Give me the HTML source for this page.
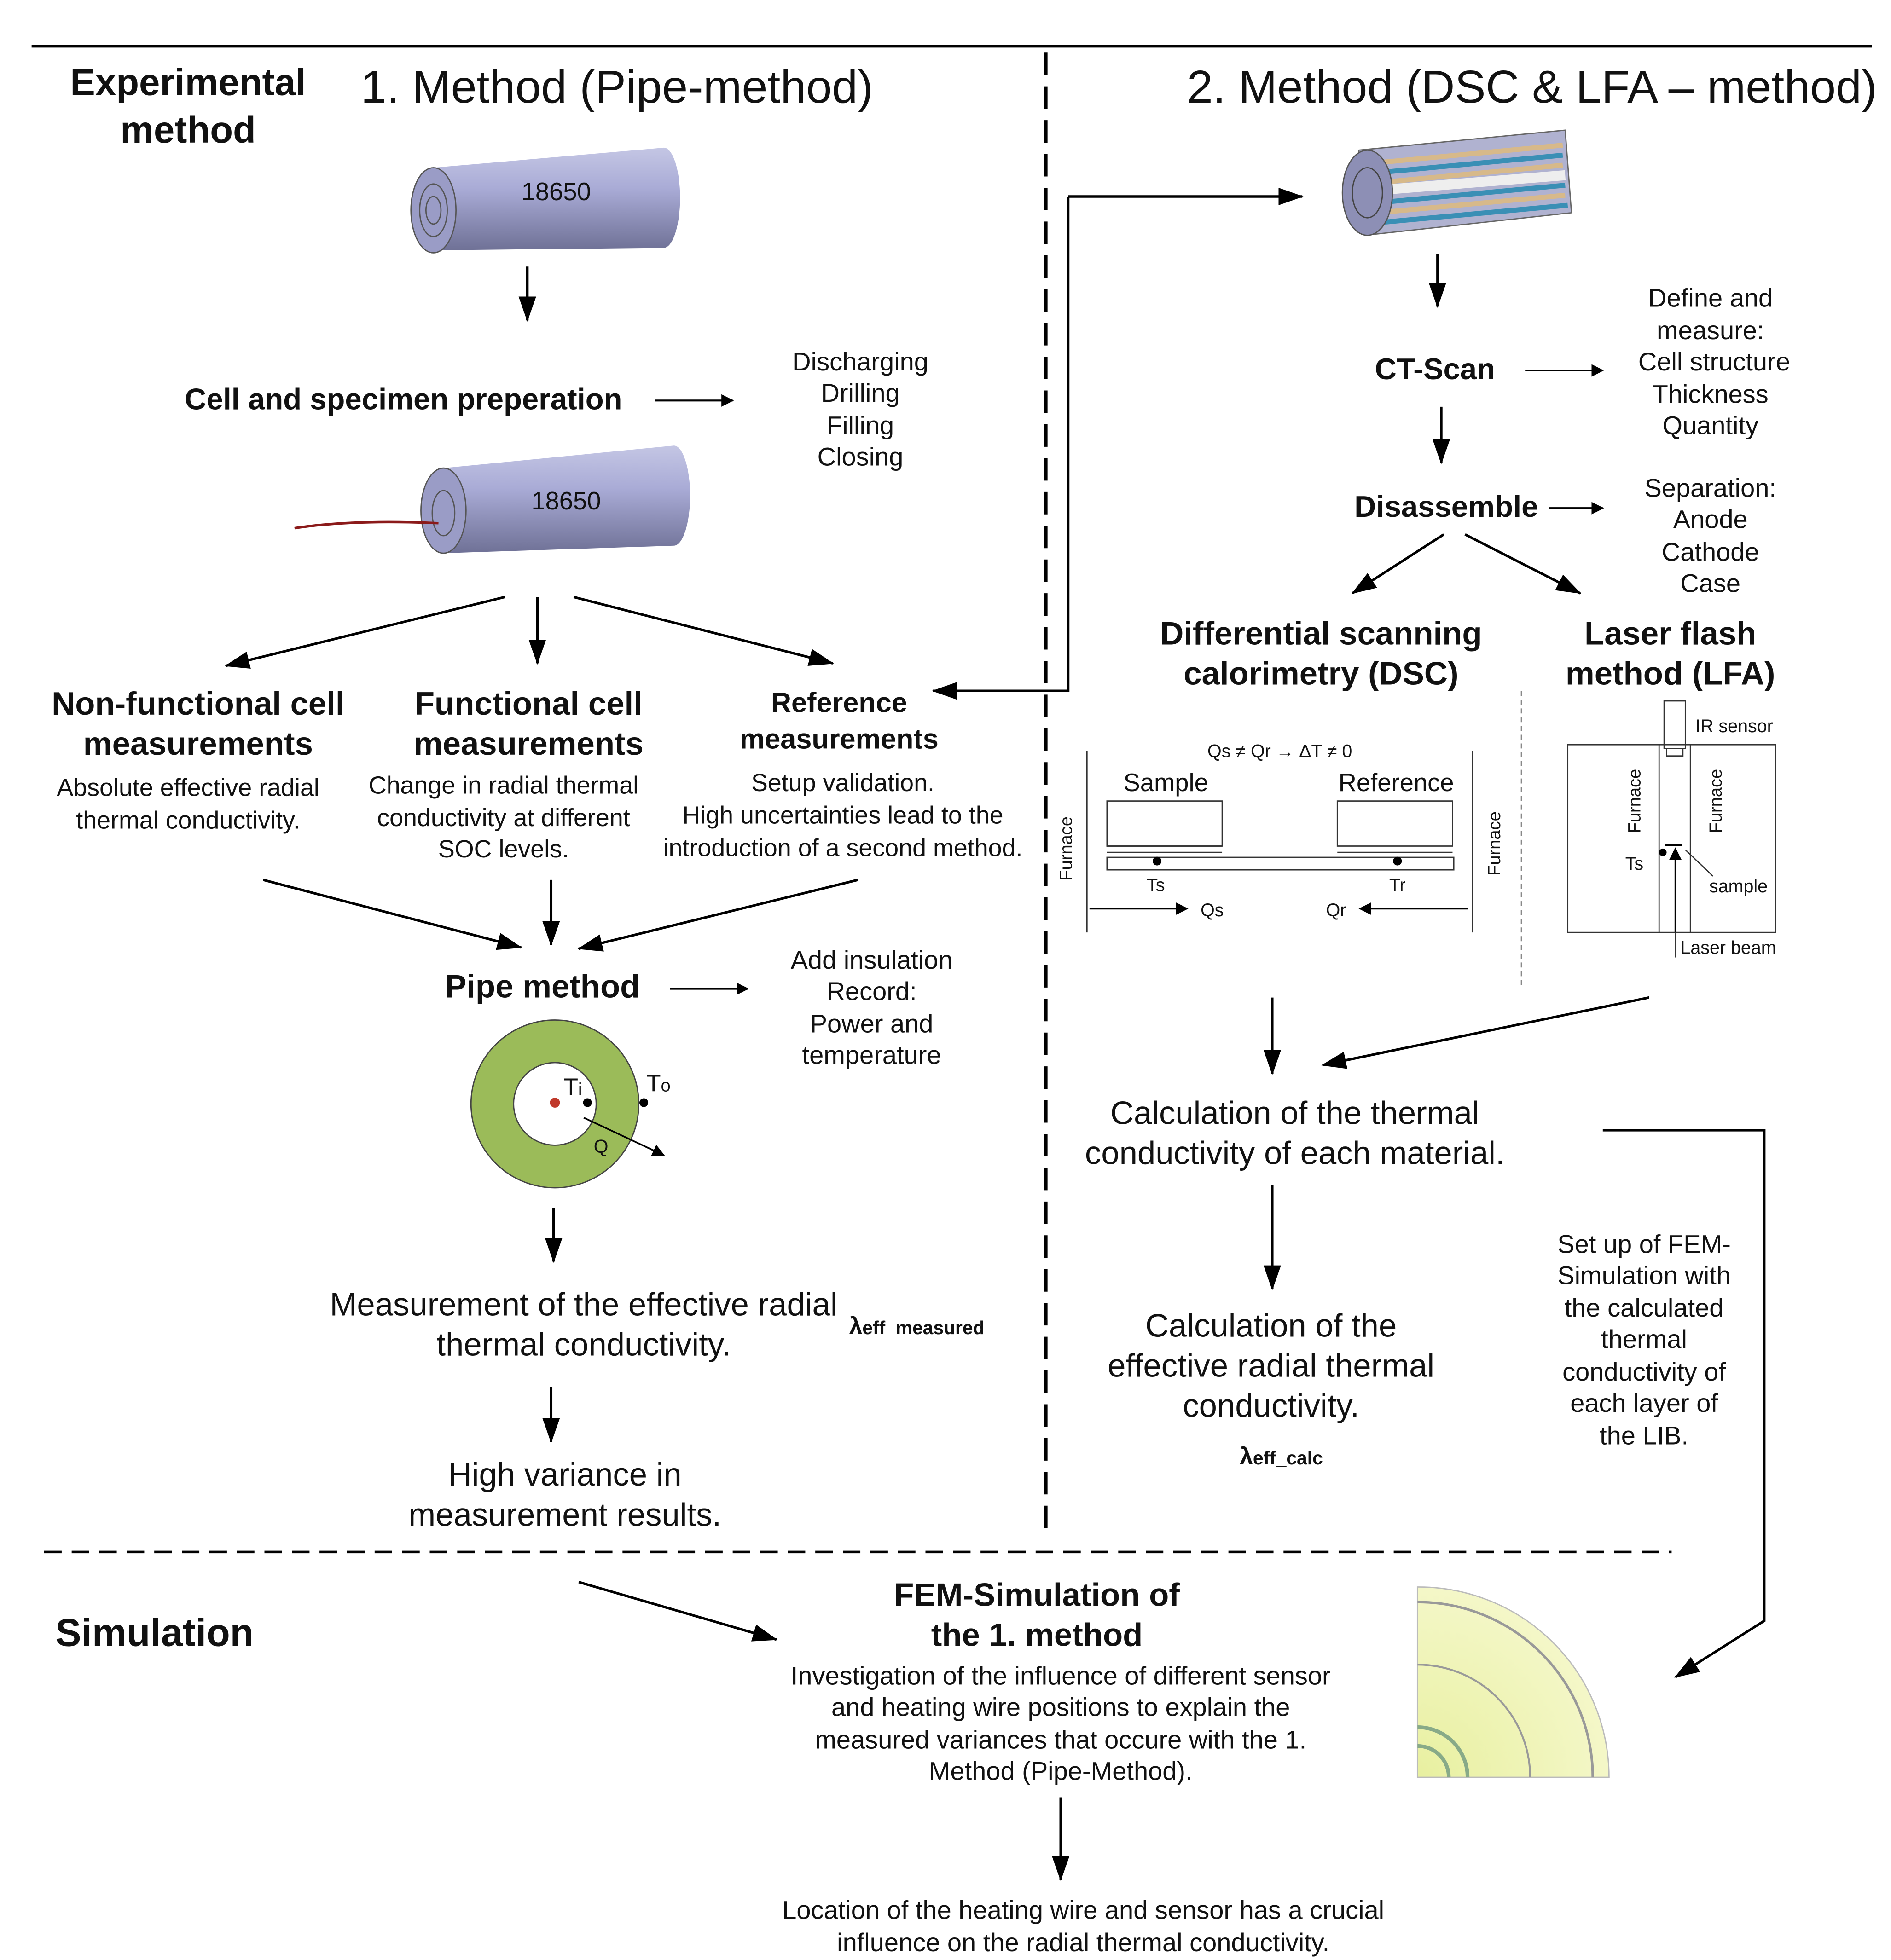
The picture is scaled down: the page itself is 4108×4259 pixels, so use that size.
<!DOCTYPE html>
<html><head><meta charset="utf-8"><style>
html,body{margin:0;padding:0;background:#fff;}
svg{display:block}
text{font-family:"Liberation Sans",Arial,sans-serif;fill:#111}
.b{font-weight:bold}
</style></head><body>
<svg width="4108" height="4259" viewBox="0 0 1510 1566" xmlns="http://www.w3.org/2000/svg">
<defs>
<marker id="a" markerWidth="10" markerHeight="10" refX="9" refY="5" orient="auto" markerUnits="userSpaceOnUse"><path d="M0,0 L10,5 L0,10 z" fill="#000"/></marker>
<marker id="a2" markerWidth="20" markerHeight="14" refX="19" refY="7" orient="auto" markerUnits="userSpaceOnUse"><path d="M0,0 L20,7 L0,14 z" fill="#000"/></marker>
<linearGradient id="cyl" x1="0" y1="0" x2="0" y2="1"><stop offset="0" stop-color="#c4c6e4"/><stop offset="0.4" stop-color="#a9abd6"/><stop offset="1" stop-color="#6f7196"/></linearGradient>
<radialGradient id="fem" cx="0" cy="1" r="1"><stop offset="0" stop-color="#e8f0a0"/><stop offset="1" stop-color="#f4f7c8"/></radialGradient>
</defs>
<g stroke="#000" fill="none">
<line x1="25" y1="37" x2="1495" y2="37" stroke-width="2"/>
<line x1="835" y1="42" x2="835" y2="1230" stroke-width="3" stroke-dasharray="18,9"/>
<line x1="35" y1="1240" x2="1335" y2="1240" stroke-width="2" stroke-dasharray="14,8"/>
</g>
<text x="150" y="76" font-size="30" text-anchor="middle" class="b">Experimental</text>
<text x="150" y="114" font-size="30" text-anchor="middle" class="b">method</text>
<text x="288" y="82" font-size="37">1. Method (Pipe-method)</text>
<text x="948" y="82" font-size="37">2. Method (DSC &amp; LFA – method)</text>
<g>
<path d="M346,134 L530,118 A13,40 0 0 1 530,198 L346,200 Z" fill="url(#cyl)"/>
<ellipse cx="346" cy="168" rx="18" ry="34" fill="#9a9cc6" stroke="#555"/>
<ellipse cx="346" cy="168" rx="11" ry="21" fill="none" stroke="#555"/>
<ellipse cx="346" cy="168" rx="6" ry="11" fill="none" stroke="#555"/>
<text x="444" y="160" font-size="20" text-anchor="middle">18650</text>
</g>
<line x1="421" y1="213" x2="421" y2="256" stroke="#000" stroke-width="2" marker-end="url(#a2)"/>
<text x="322" y="327" font-size="24" text-anchor="middle" class="b">Cell and specimen preperation</text>
<line x1="523" y1="320" x2="585" y2="320" stroke="#000" stroke-width="1.5" marker-end="url(#a)"/>
<g font-size="20.6" text-anchor="middle"><text x="687" y="296">Discharging</text><text x="687" y="321">Drilling</text><text x="687" y="347">Filling</text><text x="687" y="372">Closing</text></g>
<g>
<path d="M354,374 L538,356 A13,40 0 0 1 538,436 L354,442 Z" fill="url(#cyl)"/>
<ellipse cx="354" cy="408" rx="18" ry="34" fill="#9a9cc6" stroke="#555"/>
<ellipse cx="354" cy="410" rx="9" ry="18" fill="none" stroke="#555"/>
<path d="M235,422 Q280,415 350,418" stroke="#8b1a1a" stroke-width="2" fill="none"/>
<text x="452" y="407" font-size="20" text-anchor="middle">18650</text>
</g>
<g stroke="#000" stroke-width="2" fill="none">
<line x1="403" y1="477" x2="180" y2="532" marker-end="url(#a2)"/>
<line x1="429" y1="477" x2="429" y2="530" marker-end="url(#a2)"/>
<line x1="458" y1="477" x2="665" y2="530" marker-end="url(#a2)"/>
</g>
<g class="b" font-size="26" text-anchor="middle">
<text x="158" y="571">Non-functional cell</text><text x="158" y="603">measurements</text>
<text x="422" y="571">Functional cell</text><text x="422" y="603">measurements</text>
</g>
<g class="b" font-size="22.5" text-anchor="middle"><text x="670" y="569">Reference</text><text x="670" y="598">measurements</text></g>
<g font-size="19.8" text-anchor="middle">
<text x="150" y="636">Absolute effective radial</text><text x="150" y="662">thermal conductivity.</text>
<text x="402" y="634">Change in radial thermal</text><text x="402" y="660">conductivity at different</text><text x="402" y="685">SOC levels.</text>
<text x="673" y="632">Setup validation.</text><text x="673" y="658">High uncertainties lead to the</text><text x="673" y="684">introduction of a second method.</text>
</g>
<g stroke="#000" stroke-width="2" fill="none">
<line x1="210" y1="703" x2="416" y2="757" marker-end="url(#a2)"/>
<line x1="440" y1="703" x2="440" y2="755" marker-end="url(#a2)"/>
<line x1="685" y1="703" x2="462" y2="758" marker-end="url(#a2)"/>
<polyline points="853,157 853,552 745,552" marker-end="url(#a2)"/>
<line x1="853" y1="157" x2="1040" y2="157" marker-end="url(#a2)"/>
</g>
<text x="433" y="797" font-size="26" text-anchor="middle" class="b">Pipe method</text>
<line x1="535" y1="790" x2="597" y2="790" stroke="#000" stroke-width="1.5" marker-end="url(#a)"/>
<g font-size="20.6" text-anchor="middle"><text x="696" y="774">Add insulation</text><text x="696" y="799">Record:</text><text x="696" y="825">Power and</text><text x="696" y="850">temperature</text></g>
<circle cx="443" cy="882" r="50" fill="none" stroke="#9bbb59" stroke-width="34"/>
<circle cx="443" cy="882" r="67" fill="none" stroke="#444" stroke-width="1"/>
<circle cx="443" cy="882" r="33" fill="none" stroke="#444" stroke-width="1"/>
<circle cx="443" cy="881" r="4" fill="#c0392b"/>
<circle cx="469" cy="881" r="3.5" fill="#000"/>
<circle cx="514" cy="881" r="3.5" fill="#000"/>
<text x="450" y="875" font-size="19">T<tspan font-size="14">i</tspan></text>
<text x="516" y="872" font-size="19">T<tspan font-size="14">o</tspan></text>
<line x1="466" y1="893" x2="530" y2="923" stroke="#000" stroke-width="1.3" marker-end="url(#a)"/>
<text x="474" y="921" font-size="15">Q</text>
<line x1="442" y1="965" x2="442" y2="1008" stroke="#000" stroke-width="2" marker-end="url(#a2)"/>
<g font-size="26" text-anchor="middle"><text x="466" y="1051">Measurement of the effective radial</text><text x="466" y="1083">thermal conductivity.</text></g>
<text x="678" y="1066" font-size="19" class="b">λ<tspan font-size="15">eff_measured</tspan></text>
<line x1="440" y1="1108" x2="440" y2="1152" stroke="#000" stroke-width="2" marker-end="url(#a2)"/>
<g font-size="26" text-anchor="middle"><text x="451" y="1187">High variance in</text><text x="451" y="1219">measurement results.</text></g>
<g>
<path d="M1085,120 L1250,104 L1255,170 L1090,188 Z" fill="#b0b2d0" stroke="#666"/>
<g stroke-width="4">
<line x1="1100" y1="130" x2="1248" y2="116" stroke="#d7b98a"/>
<line x1="1100" y1="138" x2="1248" y2="124" stroke="#3a8fb5"/>
<line x1="1100" y1="146" x2="1248" y2="132" stroke="#d7b98a"/>
<line x1="1100" y1="162" x2="1250" y2="148" stroke="#3a8fb5"/>
<line x1="1100" y1="170" x2="1250" y2="156" stroke="#d7b98a"/>
<line x1="1100" y1="178" x2="1252" y2="164" stroke="#3a8fb5"/>
</g>
<path d="M1100,152 L1250,140" stroke="#eee" stroke-width="8"/>
<ellipse cx="1092" cy="154" rx="20" ry="34" fill="#8d8fb5" stroke="#555"/>
<ellipse cx="1092" cy="154" rx="12" ry="20" fill="none" stroke="#444"/>
</g>
<line x1="1148" y1="203" x2="1148" y2="245" stroke="#000" stroke-width="2" marker-end="url(#a2)"/>
<text x="1146" y="303" font-size="24" text-anchor="middle" class="b">CT-Scan</text>
<line x1="1218" y1="296" x2="1280" y2="296" stroke="#000" stroke-width="1.5" marker-end="url(#a)"/>
<g font-size="20.6" text-anchor="middle"><text x="1366" y="245">Define and</text><text x="1366" y="271">measure:</text><text x="1369" y="296">Cell structure</text><text x="1366" y="322">Thickness</text><text x="1366" y="347">Quantity</text></g>
<line x1="1151" y1="325" x2="1151" y2="370" stroke="#000" stroke-width="2" marker-end="url(#a2)"/>
<text x="1155" y="413" font-size="24" text-anchor="middle" class="b">Disassemble</text>
<line x1="1237" y1="406" x2="1280" y2="406" stroke="#000" stroke-width="1.5" marker-end="url(#a)"/>
<g font-size="20.6" text-anchor="middle"><text x="1366" y="397">Separation:</text><text x="1366" y="422">Anode</text><text x="1366" y="448">Cathode</text><text x="1366" y="473">Case</text></g>
<g stroke="#000" stroke-width="2">
<line x1="1153" y1="427" x2="1080" y2="474" marker-end="url(#a2)"/>
<line x1="1170" y1="427" x2="1262" y2="474" marker-end="url(#a2)"/>
</g>
<g class="b" font-size="26" text-anchor="middle">
<text x="1055" y="515">Differential scanning</text><text x="1055" y="547">calorimetry (DSC)</text>
<text x="1334" y="515">Laser flash</text><text x="1334" y="547">method (LFA)</text>
</g>
<line x1="1215" y1="552" x2="1215" y2="790" stroke="#888" stroke-width="1" stroke-dasharray="4,3"/>
<g stroke="#333" stroke-width="1" fill="none">
<line x1="868" y1="600" x2="868" y2="745"/>
<line x1="1176" y1="600" x2="1176" y2="745"/>
<rect x="884" y="640" width="92" height="36"/><line x1="884" y1="676" x2="976" y2="676"/><line x1="884" y1="681" x2="976" y2="681"/>
<rect x="1068" y="640" width="92" height="36"/><line x1="1068" y1="681" x2="1160" y2="681"/>
<rect x="884" y="685" width="277" height="10"/>
</g>
<circle cx="924" cy="688" r="3.5" fill="#000"/><circle cx="1116" cy="688" r="3.5" fill="#000"/>
<g stroke="#000" stroke-width="1.3"><line x1="870" y1="726" x2="948" y2="726" marker-end="url(#a)"/><line x1="1172" y1="726" x2="1086" y2="726" marker-end="url(#a)"/></g>
<g font-size="14.5" text-anchor="middle"><text x="1022" y="605">Qs ≠ Qr →  ΔT ≠ 0</text><text x="923" y="712">Ts</text><text x="1116" y="712">Tr</text><text x="968" y="732">Qs</text><text x="1067" y="732">Qr</text></g>
<text x="931" y="632" font-size="20" text-anchor="middle">Sample</text>
<text x="1115" y="632" font-size="20" text-anchor="middle">Reference</text>
<text transform="translate(856,678) rotate(-90)" font-size="14" text-anchor="middle">Furnace</text>
<text transform="translate(1198,674) rotate(-90)" font-size="14" text-anchor="middle">Furnace</text>
<g stroke="#333" stroke-width="1" fill="none">
<rect x="1252" y="595" width="166" height="150"/>
<line x1="1325" y1="595" x2="1325" y2="745"/><line x1="1350" y1="595" x2="1350" y2="745"/>
<rect x="1329" y="560" width="17" height="38"/><rect x="1331" y="598" width="13" height="6"/>
<line x1="1338" y1="745" x2="1338" y2="765"/>
<line x1="1346" y1="679" x2="1368" y2="700"/>
</g>
<line x1="1330" y1="675" x2="1343" y2="675" stroke="#000" stroke-width="2"/>
<circle cx="1328" cy="681" r="3" fill="#000"/>
<line x1="1338" y1="745" x2="1338" y2="678" stroke="#000" stroke-width="1.3" marker-end="url(#a)"/>
<g font-size="14.5"><text x="1354" y="585">IR sensor</text><text x="1365" y="713">sample</text><text x="1342" y="762">Laser beam</text><text x="1298" y="695">Ts</text></g>
<text transform="translate(1310,640) rotate(-90)" font-size="14" text-anchor="middle">Furnace</text>
<text transform="translate(1375,640) rotate(-90)" font-size="14" text-anchor="middle">Furnace</text>
<g stroke="#000" stroke-width="2" fill="none">
<line x1="1016" y1="797" x2="1016" y2="858" marker-end="url(#a2)"/>
<line x1="1317" y1="797" x2="1056" y2="851" marker-end="url(#a2)"/>
<line x1="1016" y1="947" x2="1016" y2="1030" marker-end="url(#a2)"/>
<polyline points="1280,903 1409,903 1409,1295 1338,1340" marker-end="url(#a2)"/>
<line x1="462" y1="1264" x2="620" y2="1310" marker-end="url(#a2)"/>
<line x1="847" y1="1436" x2="847" y2="1502" marker-end="url(#a2)"/>
</g>
<g font-size="26" text-anchor="middle"><text x="1034" y="898">Calculation of the thermal</text><text x="1034" y="930">conductivity of each material.</text>
<text x="1015" y="1068">Calculation of the</text><text x="1015" y="1100">effective radial thermal</text><text x="1015" y="1132">conductivity.</text></g>
<text x="990" y="1170" font-size="19" class="b">λ<tspan font-size="15">eff_calc</tspan></text>
<g font-size="20.6" text-anchor="middle"><text x="1313" y="1001">Set up of FEM-</text><text x="1313" y="1026">Simulation with</text><text x="1313" y="1052">the calculated</text><text x="1313" y="1077">thermal</text><text x="1313" y="1103">conductivity of</text><text x="1313" y="1128">each layer of</text><text x="1313" y="1154">the LIB.</text></g>
<text x="44" y="1315" font-size="31" class="b">Simulation</text>
<g class="b" font-size="26" text-anchor="middle"><text x="828" y="1283">FEM-Simulation of</text><text x="828" y="1315">the 1. method</text></g>
<g font-size="20.6" text-anchor="middle"><text x="847" y="1346">Investigation of the influence of different sensor</text><text x="847" y="1371">and heating wire positions to explain the</text><text x="847" y="1397">measured variances that occure with the 1.</text><text x="847" y="1422">Method (Pipe-Method).</text></g>
<g>
<path d="M1132,1268 A152,152 0 0 1 1285,1420 L1132,1420 Z" fill="url(#fem)" stroke="#bbb"/>
<path d="M1132,1280 A140,140 0 0 1 1272,1420" fill="none" stroke="#999" stroke-width="2"/>
<path d="M1132,1330 A90,90 0 0 1 1222,1420" fill="none" stroke="#999" stroke-width="1.5"/>
<path d="M1132,1380 A40,40 0 0 1 1172,1420" fill="none" stroke="#8a8" stroke-width="3"/>
<path d="M1132,1395 A25,25 0 0 1 1157,1420" fill="none" stroke="#8a8" stroke-width="3"/>
</g>
<g font-size="20.6" text-anchor="middle"><text x="865" y="1533">Location of the heating wire and sensor has a crucial</text><text x="865" y="1559">influence on the radial thermal conductivity.</text></g>
</svg>
</body></html>
